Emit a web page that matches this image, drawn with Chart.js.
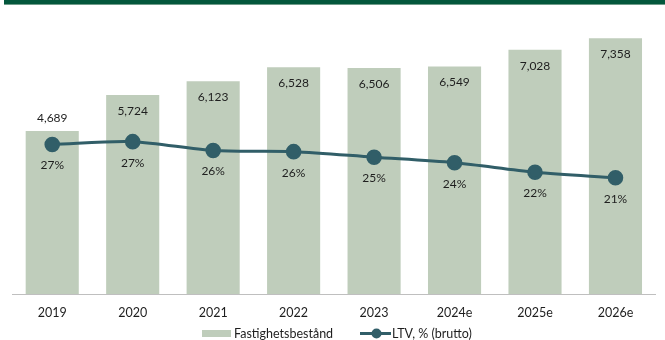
<!DOCTYPE html>
<html>
<head>
<meta charset="utf-8">
<script src="https://cdn.jsdelivr.net/npm/chart.js@4.4.1/dist/chart.umd.min.js"></script>
<style>
  html, body { margin:0; padding:0; background:#fff; }
  #wrap { position:relative; width:665px; height:340px; }
  #band { position:absolute; left:4px; top:0; width:661px; height:4px; background:#03573c; border-bottom:1px solid #6f9c8a; }
  canvas { position:absolute; left:0; top:0; }
</style>
</head>
<body>
<div id="wrap">
  <canvas id="c" width="665" height="340"></canvas>
  <div id="band"></div>
</div>
<script>
const years = ['2019','2020','2021','2022','2023','2024e','2025e','2026e'];
const fastighet = [4689, 5724, 6123, 6528, 6506, 6549, 7028, 7358];
const ltv = [26.9, 27.4, 25.8, 25.6, 24.6, 23.6, 21.9, 20.9];

const barColor = '#bfcdbb';
const lineColor = '#315e68';
const txt = '#1e1e1e';
const font = '12px Lato';

const labelsPlugin = {
  id: 'labels',
  afterDatasetsDraw(chart) {
    const ctx = chart.ctx;
    ctx.save();
    ctx.font = font;
    ctx.fillStyle = txt;
    ctx.textAlign = 'center';
    ctx.textBaseline = 'middle';
    chart.getDatasetMeta(1).data.forEach((b, i) => {
      const v = fastighet[i].toLocaleString('en-US');
      // first bar is too short for the label inside, put it above
      const y = i === 0 ? b.y - 13 : b.y + 16;
      ctx.fillText(v, b.x, y);
    });
    chart.getDatasetMeta(0).data.forEach((p, i) => {
      ctx.fillText(Math.round(ltv[i]) + '%', p.x, p.y + 21);
    });
    ctx.restore();
  },
  afterDraw(chart) {
    // legend
    const ctx = chart.ctx;
    ctx.save();
    ctx.font = '12.5px Lato';
    ctx.textBaseline = 'middle';
    const y = 333.5;
    ctx.fillStyle = barColor;
    ctx.fillRect(202, y - 3.5, 29, 7);
    ctx.fillStyle = txt;
    ctx.fillText('Fastighetsbestånd', 234, y);
    ctx.strokeStyle = lineColor;
    ctx.lineWidth = 3;
    ctx.beginPath();
    ctx.moveTo(360, y);
    ctx.lineTo(391, y);
    ctx.stroke();
    ctx.fillStyle = lineColor;
    ctx.beginPath();
    ctx.arc(376.5, y, 5, 0, Math.PI * 2);
    ctx.fill();
    ctx.fillStyle = txt;
    ctx.fillText('LTV, % (brutto)', 392, y);
    ctx.restore();
  }
};

new Chart(document.getElementById('c'), {
  data: {
    labels: years,
    datasets: [
      { type: 'line', label: 'LTV, % (brutto)', data: ltv, yAxisID: 'y2',
        borderColor: lineColor, backgroundColor: lineColor, borderWidth: 3,
        pointRadius: 6.3, pointHoverRadius: 6.3, tension: 0.3, order: 0 },
      { type: 'bar', label: 'Fastighetsbestånd', data: fastighet, yAxisID: 'y',
        backgroundColor: barColor, categoryPercentage: 1, barPercentage: 0.66, order: 1 }
    ]
  },
  plugins: [labelsPlugin],
  options: {
    responsive: false,
    animation: false,
    layout: { padding: { left: 12, right: 4, top: 16, bottom: 12 } },
    plugins: { legend: { display: false }, tooltip: { enabled: false } },
    scales: {
      x: {
        grid: { display: false },
        border: { display: true, color: '#bfbfbf', width: 1 },
        ticks: { color: txt, font: { family: 'Lato', size: 12.5 }, padding: 3 },
        afterFit(scale) { scale.height = 34; }
      },
      y: { display: false, min: 0, max: 8000 },
      y2: { display: false, min: 0, max: 50 }
    }
  }
});
</script>
</body>
</html>
